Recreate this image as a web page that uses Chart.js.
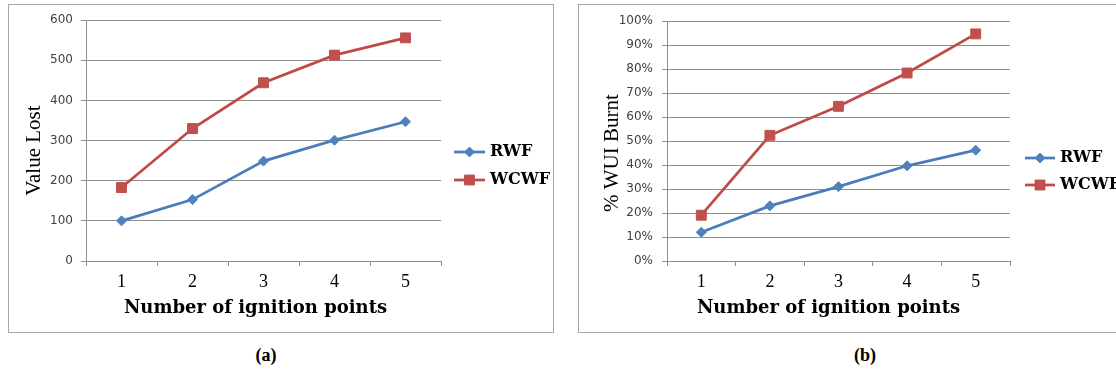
<!DOCTYPE html>
<html>
<head>
<meta charset="utf-8">
<script src="https://cdn.jsdelivr.net/npm/chart.js@4.4.1/dist/chart.umd.min.js"></script>
<style>
  html, body { margin: 0; padding: 0; background: #fff; width: 1116px; height: 375px; overflow: hidden; }
  .panel { position: absolute; top: 4px; height: 327px; border: 1px solid #a6a6a6; background: #fff; overflow: hidden; }
  #panelA { left: 8px; width: 544px; }
  #panelB { left: 578px; width: 545px; }
  canvas { display: block; }
  .cap { position: absolute; top: 345px; width: 60px; text-align: center; line-height: 22px;
         font: bold 18px "Liberation Serif", serif; color: #000; }
</style>
</head>
<body>
<div class="panel" id="panelA"><canvas id="chartA" width="544" height="327"></canvas></div>
<div class="panel" id="panelB"><canvas id="chartB" width="540" height="327"></canvas></div>
<div class="cap" style="left:236px">(a)</div>
<div class="cap" style="left:835px">(b)</div>

<script>
// Ignition point counts shared by both panels
const ignitionPoints = ['1', '2', '3', '4', '5'];

// (a) value lost
const valueLostRWF  = [100, 153, 249, 301, 347];
const valueLostWCWF = [183, 330, 444, 513, 556];
const valueLostTicks = [0, 100, 200, 300, 400, 500, 600];

// (b) percentage of WUI burnt
const wuiBurntRWF  = [12, 23, 31, 39.7, 46.2];
const wuiBurntWCWF = [19.1, 52.4, 64.5, 78.4, 94.7];
const wuiBurntTicks = [0, 10, 20, 30, 40, 50, 60, 70, 80, 90, 100];

const seriesNames = ['RWF', 'WCWF'];
const xTitle = 'Number of ignition points';

const GRID = '#8f8f8f';
const BLUE_LINE = '#4a7ebb', BLUE_MARK = '#4f81bd';
const RED_LINE = '#be4b48', RED_MARK = '#c0504d';

// Legend drawn as a line with its marker in the middle, to the right of the plot
const lineLegend = {
  id: 'lineLegend',
  afterDraw(chart, args, opts) {
    const { ctx, chartArea } = chart;
    ctx.save();
    chart.data.datasets.forEach((ds, i) => {
      const y = opts.top + i * opts.gap;
      const x0 = chartArea.right + opts.offset;
      ctx.strokeStyle = ds.borderColor;
      ctx.lineWidth = ds.borderWidth;
      ctx.beginPath();
      ctx.moveTo(x0, y);
      ctx.lineTo(x0 + opts.length, y);
      ctx.stroke();
      ctx.fillStyle = ds.pointBackgroundColor;
      ctx.strokeStyle = ds.pointBorderColor;
      ctx.lineWidth = 1;
      Chart.helpers.drawPoint(ctx, { pointStyle: ds.pointStyle, radius: ds.pointRadius, rotation: 0, borderWidth: 1 },
        x0 + opts.length / 2, y);
      ctx.fillStyle = '#000';
      ctx.font = opts.font;
      ctx.textBaseline = 'middle';
      ctx.textAlign = 'left';
      ctx.fillText(ds.label, x0 + opts.length + opts.textGap, y);
    });
    ctx.restore();
  }
};

// Axis titles placed a little off the plot centre
const axisTitles = {
  id: 'axisTitles',
  afterDraw(chart, args, opts) {
    const { ctx, chartArea } = chart;
    ctx.save();
    ctx.fillStyle = '#000';
    ctx.textAlign = 'center';
    ctx.textBaseline = 'middle';
    ctx.font = opts.xFont;
    ctx.fillText(opts.xText, (chartArea.left + chartArea.right) / 2 + opts.xShift, opts.xY);
    ctx.translate(opts.yX, (chartArea.top + chartArea.bottom) / 2 + opts.yShift);
    ctx.rotate(-Math.PI / 2);
    ctx.font = opts.yFont;
    ctx.fillText(opts.yText, 0, 0);
    ctx.restore();
  }
};

function makeDatasets(rwf, wcwf) {
  return [
    { label: seriesNames[0], data: rwf, borderColor: BLUE_LINE, borderWidth: 2.75,
      pointStyle: 'rectRot', pointRadius: 5, pointBackgroundColor: BLUE_MARK, pointBorderColor: BLUE_MARK,
      pointBorderWidth: 1, tension: 0 },
    { label: seriesNames[1], data: wcwf, borderColor: RED_LINE, borderWidth: 2.75,
      pointStyle: 'rect', pointRadius: 7, pointBackgroundColor: RED_MARK, pointBorderColor: RED_MARK,
      pointBorderWidth: 1, tension: 0 }
  ];
}

function makeOptions(p) {
  return {
    responsive: false,
    animation: false,
    devicePixelRatio: 1,
    layout: { padding: { left: 0, top: p.padTop, right: p.padRight, bottom: 0 } },
    plugins: {
      legend: { display: false },
      tooltip: { enabled: false },
      lineLegend: p.legend,
      axisTitles: {
        xText: xTitle, xFont: 'bold 18px "DejaVu Serif"', xShift: p.xShift, xY: 303,
        yText: p.yTitle, yFont: '21px "Liberation Serif"', yX: p.yTitleX, yShift: p.yShift
      }
    },
    scales: {
      x: {
        type: 'category',
        offset: true,
        grid: { display: true, drawOnChartArea: false, drawTicks: true, tickLength: 5, offset: true, color: GRID },
        border: { display: true, color: GRID, width: 1 },
        ticks: { font: { family: 'Liberation Serif', size: 18 }, color: '#000', padding: 5, maxRotation: 0 },
        afterFit(s) { s.height = p.xHeight; }
      },
      y: {
        min: p.ticks[0],
        max: p.ticks[p.ticks.length - 1],
        afterBuildTicks(s) { s.ticks = p.ticks.map(v => ({ value: v })); },
        grid: { color: GRID, lineWidth: 1, drawTicks: true, tickLength: 5 },
        border: { display: true, color: GRID, width: 1 },
        ticks: { font: { family: 'DejaVu Sans', size: 12 }, color: '#404040', padding: p.tickPad,
                 callback: p.tickFormat },
        afterFit(s) { s.width = p.yWidth; }
      }
    }
  };
}

new Chart(document.getElementById('chartA'), {
  type: 'line',
  data: { labels: ignitionPoints, datasets: makeDatasets(valueLostRWF, valueLostWCWF) },
  options: makeOptions({
    padTop: 15, padRight: 112, xHeight: 71, yWidth: 77, tickPad: 8,
    ticks: valueLostTicks, tickFormat: v => String(v), yTitle: 'Value Lost',
    xShift: -8, yTitleX: 25, yShift: 10,
    legend: { top: 147, gap: 28, offset: 13, length: 31, textGap: 5, font: 'bold 16px "DejaVu Serif"' }
  }),
  plugins: [lineLegend, axisTitles]
});

new Chart(document.getElementById('chartB'), {
  type: 'line',
  data: { labels: ignitionPoints, datasets: makeDatasets(wuiBurntRWF, wuiBurntWCWF) },
  options: makeOptions({
    padTop: 15, padRight: 109, xHeight: 71, yWidth: 88, tickPad: 9,
    ticks: wuiBurntTicks, tickFormat: v => v + '%', yTitle: '% WUI Burnt',
    xShift: -10, yTitleX: 33, yShift: 12,
    legend: { top: 153, gap: 27, offset: 15, length: 30, textGap: 5, font: 'bold 16px "DejaVu Serif"' }
  }),
  plugins: [lineLegend, axisTitles]
});
</script>
</body>
</html>
